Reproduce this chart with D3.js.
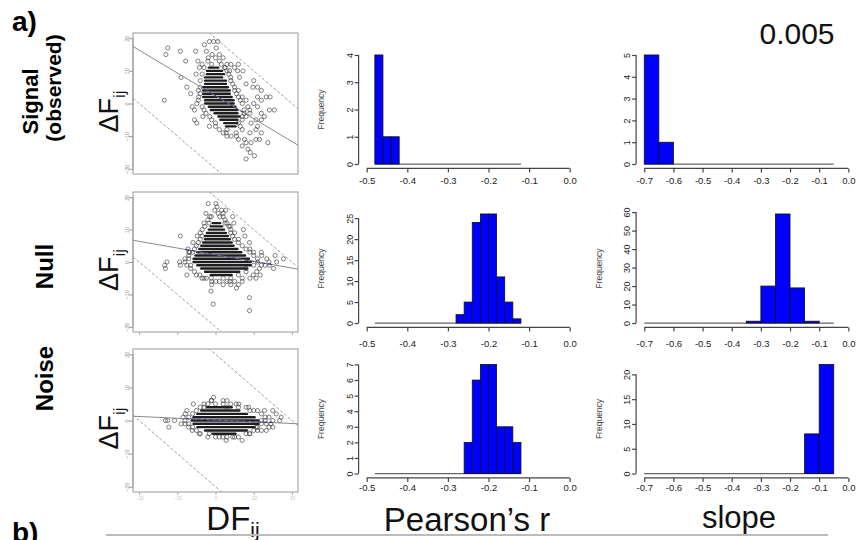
<!DOCTYPE html>
<html>
<head>
<meta charset="utf-8">
<script src="https://cdn.jsdelivr.net/npm/d3@7"></script>
<style>
  body { margin: 0; background: #fff; }
  svg { display: block; }
  text { font-family: "Liberation Sans", Arial, sans-serif; }
</style>
</head>
<body>
<svg id="chart" width="857" height="540"></svg>
<script>
// ---- data ----
const rowNames = ["Signal", "Null", "Noise"];
const scatterTicks = [-20, -10, 0, 10, 20];
const limitOffsets = [20, -20];              // dashed lines: y = c - x
const regressions = [[2.35, -0.70], [2.25, -0.206], [0.15, -0.053]]; // [intercept, slope]
const fitRanges = [[-3, 8], [-8, 15], [-8, 15]];

// dense rows of overlapping points: [y, xFrom, xTo]
const signalBands = [[11,-1.5,0.5],[10,-2,1.5],[9,-2,2],[8,-2.5,1.5],[7,-2.5,2.5],[6,-2.5,2.5],
  [5,-3,3],[4,-3,3.5],[3,-3,3.5],[2,-3,4],[1,-2.5,4.5],[0,-2.5,4.5],[-1,-1.5,5],[-2,-1,5.5],
  [-3,0,5.5],[-4,1,6],[-5,1.5,5.5],[-6,2.5,5.5],[-7,3,5]];
const nullBands = [[12,-0.5,1],[11,-1,1.5],[10,-1.5,2],[9,-2,2.5],[8,-2.5,3],[7,-2.5,3.5],
  [6,-3,4],[5,-3.5,4.5],[4,-4,5.5],[3,-4.5,6.5],[2,-5,7.5],[1,-5.5,8.5],[0,-5.5,9],[-1,-4.5,9],
  [-2,-3.5,8],[-3,-2.5,6],[-4,-1,4]];
const noiseBands = [[4,-2,4],[3,-3.5,6],[2,-4.5,8],[1,-5.5,10],[0,-6,11],[-1,-5.5,11],
  [-2,-4.5,10],[-3,-2.5,8],[-4,-0.5,5]];

const signalPoints = [[-12.5,17],[-13,15],[-9.2,16],[-5.2,16],[-7.8,13],[-9,8],[-7.5,5],[-6.5,3],
  [-13.4,1],[-2.9,18],[-1.6,19],[-0.5,19],[0.2,17],[0.6,19],[-2.4,16],[-0.9,15],[-1.9,14],[0,14],
  [1,13],[-4.6,13],[-4.2,11],[-5.1,9],[2.4,11],[3.7,10],[5,11],[5.8,10],[7.2,10],[6.3,8],[8,6],
  [9.8,5],[12,4],[13.3,2],[14.3,2],[12,1],[15.4,-2],[14.1,-2],[12.8,-4],[12,-5],[10.6,-5],[9.3,-6],
  [10.6,-8],[13.7,-12],[11.5,-11],[10.6,-11],[9.3,-12],[8,-12],[7.6,-11],[8.5,-14],[9.1,-15],
  [10.2,-16],[8,-17],[5.4,-9],[4.1,-10],[2.8,-9],[-5.5,-5],[-4.9,-6],[-3.3,-4],[-1.6,-7],[0,-6],
  [-5.5,-2],[-6.1,-1],[-4.9,0],[-4.4,2],[4,7],[5,5],[6,4],[7,2],[8,1],[8.5,-1],[9,-2],[7.5,-3],
  [8,-4],[9,-3],[6.5,-7],[7,-8],[5.5,-10],[3,-10],[-3.5,9],[-4,7],[-4,5],[3,12],[1.5,12],[-1,12],
  [-4.5,4],[-4,3],[-4.5,1],[-3.5,-1],[-3,-2],[-2.5,-3],[-1.5,-4],[-1,-5],[0,-7],[1,-8],[2,-9],
  [3,-8],[6,-6],[7,-5],[7,-4],[7.5,-2],[7,0],[6.5,1],[6,2],[5.5,3],[5,4],[4.5,6],[4,8],[3.5,9],
  [3,10],[2.5,11],[-3,11],[-3.5,12],[-2,13],[1,15],[2,14],[4,12],[6,12],[10,7],[11,5],[11,2],
  [10,0],[11,-1],[12,-3],[11,-7],[12,-9],[9,-9],[7,-13],[6,-11]];
const nullPoints = [[-1.9,18],[0.1,18],[0.4,17],[-0.2,16],[0.7,15],[1.6,16],[2.7,16],[-1.1,14],
  [2,15],[-2.5,15],[1.1,14],[4.5,14],[4.8,12],[2.5,12],[-1.7,12],[-2.8,11],[7.3,10],[7.7,8],
  [8.9,6],[6,7],[3.8,11],[-4.8,8],[-5.9,6],[-9.2,8],[-7.2,4],[-6.8,3],[-12.7,0],[-13.3,-1],
  [-13.1,-2],[-9.4,0],[-9.2,-1],[-7.5,-4],[-4.1,-4],[-2.4,-5],[-1.1,-5],[0.1,-6],[2,-5],[3.8,-6],
  [6,-7],[5.5,-8],[-1.2,-9],[-0.6,-13],[8.9,-11],[8.9,-15],[11.5,-2],[13,-1],[14.1,-1],[15.2,-2],
  [13.4,1],[15.6,2],[17.8,1],[12.1,2],[10.8,-3],[9.9,-4],[11.7,-4],[10.6,-5],[9,-5],[-7,1],[-8,0],
  [-6.5,-1],[-5.5,-3],[-3,-5],[5,-6],[7,-5],[8,-3],[11,0],[12,-1],[10,3],[9,4],[7,5],[5,9],[4,10],
  [-3.5,10],[-4,9],[-7,2],[-7,3],[-8,1],[-7.5,-1],[-6.5,-2],[-5,-4],[-3.5,-5],[-1,-6],[1,-6],
  [3,-6],[4,-5],[6,-4],[8,-2],[10,-1],[11,1],[10,2],[9,3],[8,4],[6,6],[5,7],[4.5,8],[4,9],
  [3.5,11],[3,12],[2.5,13],[2,14],[-2,13],[-1.5,14],[-3,12],[-3.5,8],[-4,7],[-4.5,6],[-5,5],
  [-5.5,4],[-6,3],[14,0],[16,0],[12,3],[-1,-7],[2,-7],[4,-7],[7,-6]];
const noisePoints = [[-0.5,7],[-1.1,6],[-5.8,5],[-7.5,3],[-7.9,2],[-12.5,0],[-13.1,0],[-10.7,0],
  [-12.2,-2],[-6.1,-3],[5.4,5],[6.1,5],[8.7,4],[12.8,3],[15,3],[15.9,2],[17.2,1],[13.3,-1],[15,-2],
  [16.8,0],[12,-3],[13.3,-3],[1.9,-5],[2.8,-6],[7,-6],[4.5,-5],[-1.6,-4],[-4.2,-4],[8.9,-4],
  [10.7,-2],[-8.5,1],[-9,-1],[-8,0],[-7,-2],[14,1],[13,0],[14.5,-1],[12,2],[11,3],[2,6],[3,6],
  [-3,5],[0,-5],[5,-5],[-5,3],[-6,2],[-7,1],[-8,-1],[-7,-1],[-6,-2],[-5,-3],[-4,-4],[-2,-5],
  [1,-5],[3,-5],[6,-5],[8,-4],[10,-3],[11,-2],[12,-1],[13,1],[12,0],[10,3],[9,3],[8,4],[6,4],
  [4,5],[2,5],[0,5],[-2,5],[-1,6],[3,4],[-3,4],[-4,4],[15,0],[14,-2],[11,-3],[9,-4]];

// histograms: counts per bin, bins start at given break
const pearsonStart = -0.48, pearsonWidth = 0.02;
const slopeStart = -0.7, slopeWidth = 0.05;
const signalPearson = [4,1,1,0,0,0,0,0,0,0,0,0,0,0,0,0,0,0];
const nullPearson   = [0,0,0,0,0,0,0,0,0,0,2,5,24,26,26,11,5,1];
const noisePearson  = [0,0,0,0,0,0,0,0,0,0,0,2,6,7,7,3,3,2];
const signalSlope = [5,1,0,0,0,0,0,0,0,0,0,0,0];
const nullSlope   = [0,0,0,0,0,0,0,1,20,59,19,1,0];
const noiseSlope  = [0,0,0,0,0,0,0,0,0,0,0,8,22];
const pearsonTicks = [-0.5,-0.4,-0.3,-0.2,-0.1,0.0];
const slopeTicks = [-0.7,-0.6,-0.5,-0.4,-0.3,-0.2,-0.1,0.0];
const pearsonYTicks = [[0,1,2,3,4],[0,5,10,15,20,25],[0,1,2,3,4,5,6,7]];
const slopeYTicks = [[0,1,2,3,4,5],[0,10,20,30,40,50,60],[0,5,10,15,20]];

// ---- layout ----
const svg = d3.select("#chart");
const scatterX = [133, 298];
const scatterRows = [[33, 174], [192, 332], [349, 492]];
const histRows = [[50.6, 168.4], [209.6, 327.4], [360.1, 477.9]];
const histLabelPad = [5, 9, 2];
const pearsonX = [358.6, 577.8];
const slopeX = [636.1, 856.5];

const bands = [signalBands, nullBands, noiseBands];
const points = [signalPoints, nullPoints, noisePoints];
const pearsonCounts = [signalPearson, nullPearson, noisePearson];
const slopeCounts = [signalSlope, nullSlope, noiseSlope];

function pad(lo, hi) { const d = (hi - lo) * 0.04; return [lo - d, hi + d]; }

// the top-right "Frequency" label is cropped on its left side in the original
svg.append("clipPath").attr("id", "freqClip")
   .append("rect").attr("x", 598.5).attr("y", 0).attr("width", 30).attr("height", 200);

// ---- scatter panels ----
scatterRows.forEach((r, i) => {
    const x = d3.scaleLinear().domain(pad(-20, 20)).range(scatterX);
    const y = d3.scaleLinear().domain(pad(-20, 20)).range([r[1], r[0]]);
    const g = svg.append("g").attr("class", "scatter");

    const clipId = "clip" + i;
    g.append("clipPath").attr("id", clipId)
     .append("rect").attr("x", scatterX[0]).attr("y", r[0])
     .attr("width", scatterX[1] - scatterX[0]).attr("height", r[1] - r[0]);
    const inner = g.append("g").attr("clip-path", "url(#" + clipId + ")");

    const rad = 2.1;
    inner.selectAll(".band").data(bands[i]).enter().append("rect")
        .attr("x", d => x(d[1]) - rad)
        .attr("width", d => x(d[2]) - x(d[1]) + 2 * rad)
        .attr("y", d => y(d[0]) - 1.2)
        .attr("height", 2.4)
        .attr("rx", 1.2)
        .style("fill", "#1e1e1e");

    inner.selectAll(".pt").data(points[i]).enter().append("circle")
        .attr("cx", d => x(d[0])).attr("cy", d => y(d[1])).attr("r", rad)
        .style("fill", "none").style("stroke", "#333").style("stroke-width", 0.6);

    // dashed limit lines
    limitOffsets.forEach(c => {
        inner.append("line")
            .attr("x1", x(-21.6)).attr("y1", y(c + 21.6))
            .attr("x2", x(21.6)).attr("y2", y(c - 21.6))
            .style("stroke", "#888").style("stroke-width", 0.8)
            .style("stroke-dasharray", "3,2");
    });

    const [a, b] = regressions[i];
    inner.append("line")
        .attr("x1", x(-21.6)).attr("y1", y(a + b * -21.6))
        .attr("x2", x(21.6)).attr("y2", y(a + b * 21.6))
        .style("stroke", "#8a8a8a").style("stroke-width", 1);
    inner.append("line")
        .attr("x1", x(fitRanges[i][0])).attr("y1", y(a + b * fitRanges[i][0]))
        .attr("x2", x(fitRanges[i][1])).attr("y2", y(a + b * fitRanges[i][1]))
        .style("stroke", "#1a1a80").style("stroke-width", 1)
        .style("stroke-dasharray", "4,2").style("opacity", 0.7);

    g.append("rect").attr("x", scatterX[0]).attr("y", r[0])
        .attr("width", scatterX[1] - scatterX[0]).attr("height", r[1] - r[0])
        .style("fill", "none").style("stroke", "#9a9a9a").style("stroke-width", 1);

    // y axis
    const yAxis = g.append("g").attr("transform", "translate(" + scatterX[0] + ",0)")
        .call(d3.axisLeft(y).tickValues(scatterTicks).tickSize(4).tickPadding(2)
              .tickFormat(d3.format("d")));
    yAxis.select(".domain").attr("d", "M0," + y(-20) + "V" + y(20)).style("stroke", "#999");
    yAxis.selectAll(".tick line").style("stroke", "#999");
    yAxis.selectAll(".tick text")
        .style("font-size", "5.5px").style("fill", "#888")
        .attr("text-anchor", "middle")
        .attr("transform", "translate(-6,0) rotate(-90)")
        .attr("x", 0).attr("dy", "0.35em");

    // x axis (only its ticks survive in the lower panels)
    if (i > 0) {
        const xAxis = g.append("g").attr("transform", "translate(0," + r[1] + ")")
            .call(d3.axisBottom(x).tickValues(scatterTicks).tickSize(3).tickPadding(2)
                  .tickFormat(d3.format("d")));
        xAxis.select(".domain").remove();
        xAxis.selectAll(".tick line").style("stroke", "#aaa");
        xAxis.selectAll(".tick text").style("font-size", "4.5px").style("fill", "#c4c4c4");
        if (i === 1) xAxis.selectAll(".tick text").remove();
    }

    // ΔF_ij label
    const ly = (r[0] + r[1]) / 2 + 8;
    const lab = svg.append("text")
        .attr("transform", "translate(118," + ly + ") rotate(-90)")
        .attr("text-anchor", "middle")
        .style("font-size", "27px").style("fill", "#111");
    lab.append("tspan").text("ΔF");
    lab.append("tspan").text("ij").attr("dy", 7).style("font-size", "17px");
});

// ---- histograms ----
function histogram(counts, start, width, ticks, yTicks, xRange, yRange, labelX, labelPad, clip) {
    const n = counts.length;
    const x = d3.scaleLinear().domain(pad(ticks[0], 0)).range(xRange);
    const ymax = d3.max(counts);
    const y = d3.scaleLinear().domain(pad(0, ymax)).range([yRange[1], yRange[0]]);
    const g = svg.append("g").attr("class", "hist");

    const bins = counts.map((c, k) => ({ x0: start + k * width, x1: start + (k + 1) * width, c: c }));

    g.append("line")
        .attr("x1", x(start)).attr("x2", x(start + n * width))
        .attr("y1", y(0)).attr("y2", y(0))
        .style("stroke", "#666").style("stroke-width", 1.2);

    g.selectAll(".bar").data(bins.filter(d => d.c > 0)).enter().append("rect")
        .attr("class", "bar")
        .attr("x", d => x(d.x0)).attr("width", d => x(d.x1) - x(d.x0))
        .attr("y", d => y(d.c)).attr("height", d => y(0) - y(d.c))
        .style("fill", "#0000ff").style("stroke", "#111").style("stroke-width", 0.8);

    const xAxis = g.append("g").attr("transform", "translate(0," + yRange[1] + ")")
        .call(d3.axisBottom(x).tickValues(ticks).tickSize(4).tickPadding(labelPad)
              .tickSizeOuter(0));
    xAxis.select(".domain").attr("d", "M" + x(ticks[0]) + ",0H" + x(0));
    xAxis.selectAll(".domain, .tick line").style("stroke", "#444").style("stroke-width", 1.2);
    xAxis.selectAll(".tick text").style("font-size", "9.5px").style("fill", "#222")
        .text(d => d3.format(".1f")(d).replace("−", "-"));

    const yAxis = g.append("g").attr("transform", "translate(" + xRange[0] + ",0)")
        .call(d3.axisLeft(y).tickValues(yTicks).tickSize(4).tickPadding(2).tickSizeOuter(0)
              .tickFormat(d3.format("d")));
    yAxis.select(".domain").attr("d", "M0," + y(yTicks[0]) + "V" + y(yTicks[yTicks.length - 1]));
    yAxis.selectAll(".domain, .tick line").style("stroke", "#444").style("stroke-width", 1.2);
    yAxis.selectAll(".tick text")
        .style("font-size", "9px").style("fill", "#222")
        .attr("text-anchor", "middle")
        .attr("transform", "translate(-9,0) rotate(-90)")
        .attr("x", 0).attr("dy", "0.35em");

    const freq = svg.append("text")
        .attr("transform", "translate(" + labelX + "," + ((yRange[0] + yRange[1]) / 2) + ") rotate(-90)")
        .attr("text-anchor", "middle")
        .style("font-size", "8.5px").style("fill", "#444")
        .text("Frequency");
    if (clip) freq.attr("clip-path", "url(#freqClip)");
}

histRows.forEach((r, i) => {
    histogram(pearsonCounts[i], pearsonStart, pearsonWidth, pearsonTicks, pearsonYTicks[i],
              pearsonX, r, 324, histLabelPad[i], false);
    histogram(slopeCounts[i], slopeStart, slopeWidth, slopeTicks, slopeYTicks[i],
              slopeX, r, 602, histLabelPad[i], i === 0);
});

// ---- annotations ----
svg.append("text").attr("x", 12).attr("y", 31)
    .style("font-size", "28px").style("font-weight", "bold").text("a)");
svg.append("text").attr("x", 12).attr("y", 542)
    .style("font-size", "28px").style("font-weight", "bold").text("b)");
svg.append("text").attr("x", 797).attr("y", 44).attr("text-anchor", "middle")
    .style("font-size", "30px").style("fill", "#111").text("0.005");

const rowLabels = [
    { text: "Signal", x: 38, y: 101.5, size: 22 },
    { text: "(observed)", x: 61, y: 88, size: 21 },
    { text: "Null", x: 53, y: 266.5, size: 24 },
    { text: "Noise", x: 53, y: 378.5, size: 24 }
];
svg.selectAll(".rowlab").data(rowLabels).enter().append("text")
    .attr("transform", d => "translate(" + d.x + "," + d.y + ") rotate(-90)")
    .attr("text-anchor", "middle")
    .style("font-size", d => d.size + "px").style("font-weight", "bold")
    .text(d => d.text);

const df = svg.append("text").attr("x", 233).attr("y", 530).attr("text-anchor", "middle")
    .style("font-size", "33px").style("fill", "#111");
df.append("tspan").text("DF");
df.append("tspan").text("ij").attr("dy", 7).style("font-size", "21px");

svg.append("text").attr("x", 467).attr("y", 531).attr("text-anchor", "middle")
    .style("font-size", "33px").style("fill", "#111").text("Pearson’s r");
svg.append("text").attr("x", 739).attr("y", 528).attr("text-anchor", "middle")
    .style("font-size", "31px").style("fill", "#111").text("slope");

svg.append("line").attr("x1", 106).attr("x2", 828).attr("y1", 535).attr("y2", 535)
    .style("stroke", "#bbb").style("stroke-width", 2);
</script>
</body>
</html>
